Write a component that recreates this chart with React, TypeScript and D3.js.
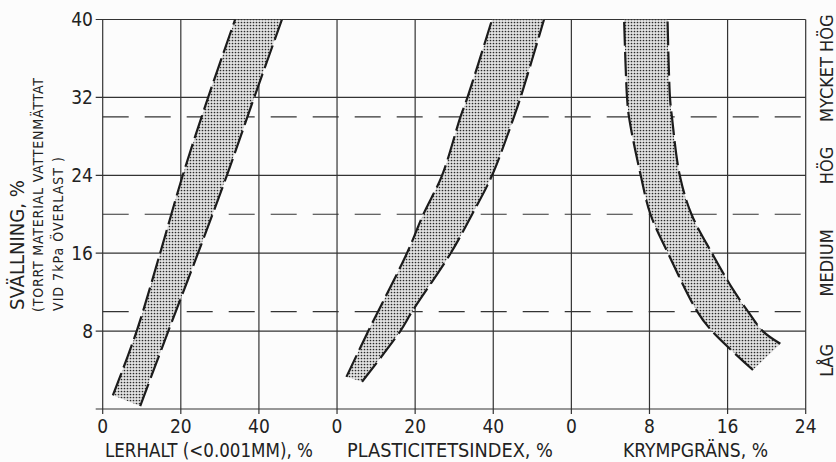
import React from "react";
import * as d3 from "d3";

// swelling classes on the right side
const classLabels = ["LÅG", "MEDIUM", "HÖG", "MYCKET HÖG"];
const classBounds = [10, 20, 30];

const yTicks = [8, 16, 24, 32, 40];
const lerTicks = [0, 20, 40];
const piTicks = [0, 20, 40];
const kgTicks = [0, 8, 16, 24];

// band edges as [x value, swelling %]
const lerLow: [number, number][] = [[2.6, 1.4], [8.7, 8], [14.7, 16], [20.5, 24], [27.0, 32], [33.9, 40]];
const lerHigh: [number, number][] = [[9.6, 0.3], [16.8, 8], [24.4, 16], [31.8, 24], [38.8, 32], [45.9, 40]];

const piLow: [number, number][] = [[2.4, 3.3], [8.0, 8], [17.9, 16], [22.1, 20], [26.9, 24], [31.6, 30], [33.4, 32], [39.7, 40]];
const piHigh: [number, number][] = [[6.4, 2.8], [16.2, 8], [19.2, 10], [29.1, 16], [34.6, 20], [39.7, 24], [45.3, 30], [47.0, 32], [53.0, 40]];

const kgLow: [number, number][] = [[18.6, 4.0], [14.4, 8], [12.9, 10], [9.9, 16], [8.1, 20], [7.1, 24], [5.9, 30], [5.7, 32], [5.4, 40]];
const kgHigh: [number, number][] = [[21.4, 6.7], [19.6, 8], [18.1, 10], [16.6, 12.2], [14.4, 16], [12.3, 20], [11.1, 24], [10.3, 30], [10.1, 32], [9.85, 40]];

const W = 836;
const H = 462;
const left = 102.7;
const right = 805.7;
const top = 19.5;
const bottom = 409;
const panelW = (right - left) / 3;

const font = "'Liberation Sans Narrow', 'DejaVu Sans Condensed', sans-serif";
const ink = "#333";

export default function App() {
  const y = d3.scaleLinear().domain([0, 40]).range([bottom, top]);
  const xLer = d3.scaleLinear().domain([0, 60]).range([left, left + panelW]);
  const xPi = d3.scaleLinear().domain([0, 60]).range([left + panelW, left + 2 * panelW]);
  const xKg = d3.scaleLinear().domain([0, 24]).range([left + 2 * panelW, right]);

  const bands = [
    { x: xLer, lo: lerLow, hi: lerHigh },
    { x: xPi, lo: piLow, hi: piHigh },
    { x: xKg, lo: kgLow, hi: kgHigh },
  ];

  const edge = (sx: d3.ScaleLinear<number, number>) =>
    d3.line<[number, number]>()
      .x((d) => sx(d[0]))
      .y((d) => y(d[1]))
      .curve(d3.curveCatmullRom.alpha(0.5));

  const vLines = [
    ...lerTicks.map((t) => xLer(t)),
    ...piTicks.map((t) => xPi(t)),
    ...kgTicks.map((t) => xKg(t)),
  ];

  const tickLabels = [
    ...lerTicks.map((t) => ({ v: t, px: xLer(t) })),
    ...piTicks.map((t) => ({ v: t, px: xPi(t) })),
    ...kgTicks.map((t) => ({ v: t, px: xKg(t) })),
  ];

  return (
    <div style={{ position: "fixed", left: 0, top: 0 }}>
      <svg width={W} height={H} style={{ display: "block", background: "#fcfcfc" }}>
        <defs>
          <pattern id="stipple" width={3} height={3} patternUnits="userSpaceOnUse">
            <rect width={3} height={3} fill="#e2e2e2" />
            <circle cx={1.5} cy={1.5} r={0.85} fill="#2a2a2a" />
          </pattern>
          <clipPath id="plot">
            <rect x={left} y={top} width={right - left} height={bottom - top} />
          </clipPath>
        </defs>

        {/* solid grid */}
        {vLines.map((px, i) => (
          <line key={"v" + i} x1={px} x2={px} y1={top} y2={bottom + 5} stroke={ink} strokeWidth={1.2} />
        ))}
        {[0, ...yTicks].map((t) => (
          <line key={"h" + t} x1={left - 7} x2={right} y1={y(t)} y2={y(t)} stroke={ink} strokeWidth={1.2} />
        ))}
        {classBounds.map((t) => (
          <line key={"d" + t} x1={left} x2={right} y1={y(t)} y2={y(t)} stroke={ink} strokeWidth={1.2} strokeDasharray="26 16" />
        ))}

        {/* bands */}
        <g clipPath="url(#plot)">
          {bands.map((b, i) => {
            const lo = edge(b.x)(b.lo) as string;
            const hi = edge(b.x)([...b.hi].reverse()) as string;
            const area = lo + "L" + hi.slice(1) + "Z";
            return (
              <g key={"b" + i}>
                <path d={area} fill="url(#stipple)" stroke="none" />
                <path d={lo} fill="none" stroke="#1c1c1c" strokeWidth={2.2} strokeDasharray="24 6" />
                <path d={edge(b.x)(b.hi) as string} fill="none" stroke="#1c1c1c" strokeWidth={2.2} strokeDasharray="24 6" />
              </g>
            );
          })}
        </g>

        {/* y tick labels */}
        {yTicks.map((t) => (
          <text key={"yl" + t} x={93} y={y(t) + 6.5} textAnchor="end" fontFamily={font} fontSize={19} fill="#222">
            {t}
          </text>
        ))}
        {/* x tick labels */}
        {tickLabels.map((d, i) => (
          <text key={"xl" + i} x={d.px} y={433} textAnchor="middle" fontFamily={font} fontSize={19} fill="#222">
            {d.v}
          </text>
        ))}

        {/* axis titles */}
        <text x={105} y={457} fontFamily={font} fontSize={19} fill="#222" textLength={208} lengthAdjust="spacingAndGlyphs">
          LERHALT (&lt;0.001MM), %
        </text>
        <text x={347} y={457} fontFamily={font} fontSize={19} fill="#222" textLength={206} lengthAdjust="spacingAndGlyphs">
          PLASTICITETSINDEX, %
        </text>
        <text x={623} y={457} fontFamily={font} fontSize={19} fill="#222" textLength={145} lengthAdjust="spacingAndGlyphs">
          KRYMPGRÄNS, %
        </text>

        <text transform="translate(24,310) rotate(-90)" fontFamily={font} fontSize={19} fill="#222" textLength={130} lengthAdjust="spacingAndGlyphs">
          SVÄLLNING, %
        </text>
        <text transform="translate(43,312) rotate(-90)" fontFamily={font} fontSize={14} fill="#222" textLength={234} lengthAdjust="spacing">
          (TORRT MATERIAL VATTENMÄTTAT
        </text>
        <text transform="translate(63,311) rotate(-90)" fontFamily={font} fontSize={14} fill="#222" textLength={154} lengthAdjust="spacing">
          VID 7kPa ÖVERLAST )
        </text>

        {/* class labels */}
        {classLabels.map((c, i) => (
          <text
            key={c}
            transform={`translate(833,${y(i * 10 + 5)}) rotate(-90)`}
            textAnchor="middle"
            fontFamily={font}
            fontSize={18}
            fill="#222"
          >
            {c}
          </text>
        ))}
      </svg>
    </div>
  );
}
